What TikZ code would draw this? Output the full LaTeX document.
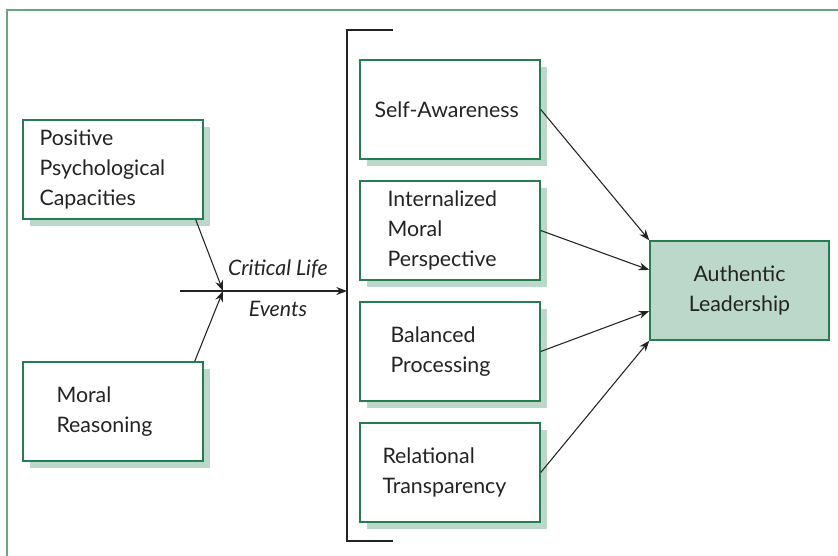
\documentclass[tikz,border=0pt]{standalone}
\usepackage{fontspec}
\setmainfont{Lato}
\usepackage{tikz}
\usetikzlibrary{arrows.meta,shadows}
\usepackage{xcolor}

\definecolor{framegreen}{RGB}{104,166,134}
\definecolor{boxgreen}{RGB}{36,126,82}
\definecolor{shadegreen}{RGB}{188,216,202}
\definecolor{inkgray}{RGB}{35,35,35}

\tikzset{
  plainbox/.style={draw=boxgreen, line width=1.1pt, fill=white, rectangle,
    minimum width=135pt, minimum height=74.25pt, inner sep=0pt},
  box/.style={plainbox,
    drop shadow={shadow xshift=5.25pt, shadow yshift=-5.25pt, fill=shadegreen, opacity=1}},
  boxtext/.style={align=left, inner sep=0pt, text=inkgray,
    font=\fontsize{16}{22.5}\selectfont},
  evtext/.style={inner sep=0pt, text=inkgray,
    font=\fontsize{16}{22.5}\selectfont\itshape},
  arr/.style={draw=inkgray, line width=0.8pt, -{Stealth[length=8pt,width=6pt]}}
}

\begin{document}
\begin{tikzpicture}[x=0.75pt,y=0.75pt,yscale=-1,xscale=1]
    \useasboundingbox (0,0) rectangle (838,556);

    %Shape: Frame
    \draw [framegreen, line width=1.5pt] (7,556) -- (7,10.5) -- (838,10.5);

    %Shape: Bracket
    \draw [inkgray, line width=1pt] (393,30) -- (347,30) -- (347,541) -- (393,541);

    %Shape: Rectangle [Positive Psychological Capacities]
    \node [box] (ppc) at (113,169.5) {};
    %Shape: Rectangle [Moral Reasoning]
    \node [box] (mr) at (113,411.5) {};
    %Shape: Rectangle [Self-Awareness]
    \node [box] (sa) at (450,109.5) {};
    %Shape: Rectangle [Internalized Moral Perspective]
    \node [box] (imp) at (450,230.5) {};
    %Shape: Rectangle [Balanced Processing]
    \node [box] (bp) at (450,351.5) {};
    %Shape: Rectangle [Relational Transparency]
    \node [box] (rt) at (450,472.5) {};
    %Shape: Rectangle [Authentic Leadership]
    \node [plainbox, fill=shadegreen, minimum width=134.25pt] (al) at (739.5,290.5) {};

    % Text Node
    \node [boxtext, anchor=west] (ppct) at ([xshift=12.75pt]ppc.west) {Positive\\Psychological\\Capacities};
    % Text Node
    \node [boxtext, anchor=west] (mrt) at ([xshift=25.5pt]mr.west) {Moral\\Reasoning};
    % Text Node
    \node [boxtext, anchor=west] (sat) at ([xshift=11.25pt]sa.west) {Self-Awareness};
    % Text Node
    \node [boxtext, anchor=west] (impt) at ([xshift=21pt]imp.west) {Internalized\\Moral\\Perspective};
    % Text Node
    \node [boxtext, anchor=west] (bpt) at ([xshift=23.25pt]bp.west) {Balanced\\Processing};
    % Text Node
    \node [boxtext, anchor=west] (rtt) at ([xshift=17.25pt]rt.west) {Relational\\Transparency};
    % Text Node
    \node [boxtext, align=center] (alt) at (al.center) {Authentic\\Leadership};

    % Critical life events
    \coordinate (evin) at (180,291);
    \coordinate (ev) at (223,291);
    \coordinate (brk) at (347,291);
    \node [evtext] (evtop) at (278,269) {Critical Life};
    \node [evtext] (evbot) at (278,309) {Events};

    \draw [arr, line width=1.1pt] (evin) -- (brk);
    \draw [arr] ([xshift=-6pt]ppc.south east) -- (ev);
    \draw [arr] ([xshift=-6.75pt]mr.north east) -- (ev);

    % Arrows into Authentic Leadership
    \draw [arr] (sa.east) -- (al.north west);
    \draw [arr] (imp.east) -- ([yshift=-15.4pt]al.west);
    \draw [arr] (bp.east) -- ([yshift=15.4pt]al.west);
    \draw [arr] (rt.east) -- (al.south west);

\end{tikzpicture}
\end{document}
